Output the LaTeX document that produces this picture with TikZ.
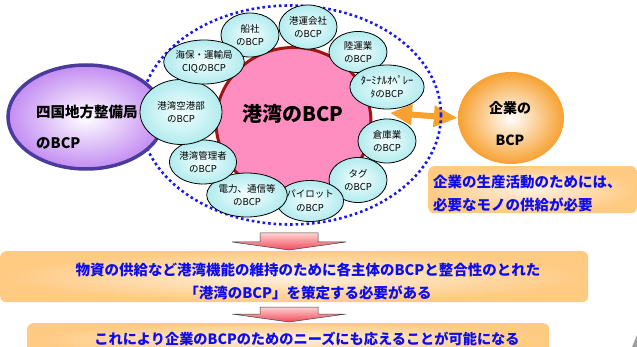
\documentclass[tikz,border=0pt]{standalone}
\usepackage{fontspec}
\newfontfamily\jp{Noto Sans CJK JP}
\usetikzlibrary{arrows.meta,shapes.geometric}
\definecolor{cyanin}{HTML}{F4FFFF}
\definecolor{cyanout}{HTML}{B2EBEE}
\definecolor{pinkc}{HTML}{FF8EC0}
\definecolor{darkredc}{HTML}{A01414}
\definecolor{dotblue}{HTML}{1A1AF0}
\definecolor{purpleb}{HTML}{4A3C9C}
\definecolor{lavender}{HTML}{C38CF2}
\definecolor{orangec}{HTML}{F7A131}
\definecolor{boxorange}{HTML}{FFCA82}
\definecolor{boxlight}{HTML}{FFF0DF}
\definecolor{textblue}{HTML}{0C0CEC}
\definecolor{arrtop}{HTML}{FFD2D2}
\definecolor{arrbot}{HTML}{F04A5A}
\begin{document}
\begin{tikzpicture}[x=1pt,y=-1pt,
  small/.style={ellipse, draw=black, line width=0.8pt, inner color=cyanin, outer color=cyanout,
    inner sep=0pt, minimum width=58, minimum height=44, align=center,
    font=\jp\fontsize{9.5}{13.5}\selectfont},
  bluetext/.style={text=textblue, font=\jp\bfseries\fontsize{14.5}{23}\selectfont, align=center},
  obox/.style={rectangle, rounded corners=6pt, inner color=boxlight, outer color=boxorange, inner sep=0pt},
  downarr/.style={top color=arrtop, bottom color=arrbot, draw=black!75, line width=0.5pt}
]
\useasboundingbox (0,0) rectangle (637,347);

% double arrow between port BCP and company BCP
\coordinate (aleft) at (390,113);
\node[ellipse, inner color=white, outer color=orangec, minimum width=106, minimum height=92] (comp) at (511,118) {};
\draw[orangec, line width=6pt, {Triangle[width=20pt,length=22pt]}-{Triangle[width=20pt,length=24pt]}] (aleft) -- (comp.west);
\node[font=\jp\bfseries\fontsize{14}{32}\selectfont, align=center] (comptxt) at (510,124) {企業の\\BCP};

% dotted ellipse
\node[ellipse, draw=dotblue, line width=2.6pt, dash pattern=on 2.6pt off 2.9pt, minimum width=301, minimum height=219] (port) at (290.5,115) {};

% Shikoku ellipse
\node[ellipse, draw=purpleb, line width=3.5pt, inner color=white, outer color=lavender, minimum width=156, minimum height=104] (shikoku) at (86,117) {};
\node[anchor=west, font=\jp\bfseries\fontsize{14.5}{31}\selectfont, align=left, inner sep=0pt] (shikokutxt) at (36,127.5) {四国地方整備局\\のBCP};

% central circle
\node[ellipse, draw=darkredc, line width=3pt, fill=pinkc, minimum width=155, minimum height=149] (bcp) at (293.5,122) {};
\node[font=\jp\bfseries\fontsize{20}{24}\selectfont] (bcptxt) at (293,113.5) {港湾のBCP};

% surrounding entities
\node[small] (s1) at (250,35) {船社\\のBCP};
\node[small] (s2) at (308,27) {港運会社\\のBCP};
\node[small, minimum height=41] (s3) at (358,52) {陸運業\\のBCP};
\node[small, minimum width=60] (s4) at (387,87) {{\fontsize{10.5}{13.5}\selectfont ﾀｰﾐﾅﾙｵﾍﾟﾚｰ}\\ﾀのBCP};
\node[small] (s5) at (387,141) {倉庫業\\のBCP};
\node[small, minimum height=45] (s6) at (358,180) {タグ\\のBCP};
\node[small, minimum height=41] (s7) at (310,201) {パイロット\\のBCP};
\node[small] (s8) at (247,195) {電力、通信等\\のBCP};
\node[small] (s9) at (203,162) {港湾管理者\\のBCP};
\node[small, minimum width=82, minimum height=65] (s10) at (181,112) {港湾空港部\\のBCP};
\node[small] (s11) at (204,62) {海保・運輸局\\CIQのBCP};

% need box
\node[obox, minimum width=209, minimum height=47, anchor=north west] (needbox) at (428,166) {};
\node[bluetext, align=left, anchor=west, inner sep=0pt] (needtxt) at (433,193.5) {企業の生産活動のためには、\\必要なモノの供給が必要};

% down arrow 1
\shade[downarr] (260,233) -- (318,233) -- (318,242) -- (346,242) -- (289,250) -- (232,242) -- (260,242) -- cycle;

% box 1
\node[obox, minimum width=588, minimum height=51, anchor=north west] (box1) at (0,251) {};
\node[bluetext] (box1txt) at (308,281.5) {物資の供給など港湾機能の維持のために各主体のBCPと整合性のとれた\\「港湾のBCP」を策定する必要がある};

% down arrow 2
\shade[downarr] (260,307) -- (318,307) -- (318,314) -- (346,314) -- (289,322) -- (232,314) -- (260,314) -- cycle;

% box 2
\node[obox, minimum width=522, minimum height=32, anchor=north west] (box2) at (27,323) {};
\node[bluetext, font=\jp\bfseries\fontsize{14.2}{23}\selectfont] (box2txt) at (307,339) {これにより企業のBCPのためのニーズにも応えることが可能になる};

% corner artefact
\fill[gray!75] (632,347) -- (637,335) -- (637,347) -- cycle;
\end{tikzpicture}
\end{document}
